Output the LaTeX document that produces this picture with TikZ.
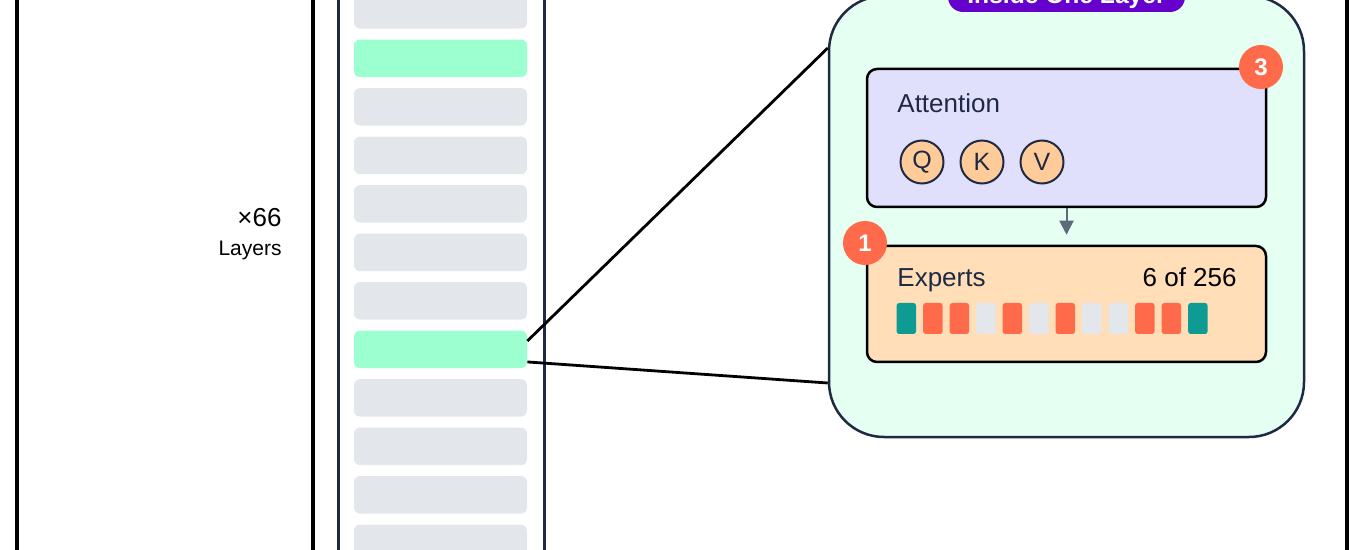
\documentclass[tikz,border=0pt]{standalone}
\usepackage{fontspec}
\setmainfont{Liberation Sans}
\usetikzlibrary{arrows.meta}
\definecolor{navy}{HTML}{1E2A44}
\definecolor{barg}{HTML}{E3E6EA}
\definecolor{barh}{HTML}{9BFFD0}
\definecolor{mint}{HTML}{E6FFF3}
\definecolor{lavender}{HTML}{E0E0FC}
\definecolor{peach}{HTML}{FFDEB8}
\definecolor{apricot}{HTML}{FFCC99}
\definecolor{coral}{HTML}{FF6B4A}
\definecolor{tealx}{HTML}{0E9B94}
\definecolor{violet}{HTML}{6600CC}
\definecolor{slate}{HTML}{5C6B7A}
\tikzset{
    layerbar/.style={rounded corners=3pt,inner sep=0pt,minimum width=86.5pt,minimum height=18.75pt},
    innerbox/.style={draw=black,line width=1.25pt,rounded corners=5pt,minimum width=199.5pt},
    qkv/.style={circle,draw=navy,line width=1pt,fill=apricot,text=navy,minimum size=21.5pt,inner sep=0pt,font=\fontsize{12.5}{14}\selectfont},
    badge/.style={circle,fill=coral,text=white,minimum size=22pt,inner sep=0pt,font=\fontsize{12}{14}\selectfont\bfseries},
    cell/.style={rounded corners=1.25pt,inner sep=0pt,minimum width=9.65pt,minimum height=15.5pt},
    boxtext/.style={inner sep=0pt,text=navy,font=\fontsize{13}{15}\selectfont}
}
\begin{document}
\begin{tikzpicture}[x=0.5pt,y=-0.5pt]
        \useasboundingbox (0,0) rectangle (1370,550);
        \clip (0,0) rectangle (1370,550);
        %% frames
        \draw[line width=1.8pt] (17,-20) rectangle (1347,570);
        \draw[line width=1.6pt] (313,-20) -- (313,570);
        %% layer stack
        \draw[navy,line width=1.5pt] (338,-20) rectangle (544,570);
        \foreach \i/\c in {1/barg,2/barh,3/barg,4/barg,5/barg,6/barg,7/barg,8/barh,9/barg,10/barg,11/barg,12/barg}
            \node[layerbar,fill=\c] (bar\i) at (440.5,{-38.65+48.5*\i}) {};
        \node[anchor=base east,inner sep=0pt,font=\fontsize{13}{15}\selectfont] (rep) at (282,227) {×66};
        \node[anchor=base east,inner sep=0pt,font=\fontsize{10.5}{12}\selectfont] (replbl) at (282,256) {Layers};
        %% zoom lines
        \node[draw=navy,line width=1.25pt,fill=mint,rounded corners=27.5pt,minimum width=237.5pt,minimum height=220.5pt] (panel) at (1066.5,216.5) {};
        \draw[line width=1.4pt] ([yshift=4.2pt]bar8.east) -- ([yshift=84.25pt]panel.west);
        \draw[line width=1.4pt] ([yshift=-6.3pt]bar8.east) -- ([yshift=-83.25pt]panel.west);
        \node[fill=violet,text=white,rounded corners=7.5pt,minimum width=118.5pt,minimum height=15pt,inner sep=0pt,font=\fontsize{12.3}{14}\selectfont\bfseries] (title) at (1066.5,-3) {Inside One Layer};
        %% attention
        \node[innerbox,fill=lavender,minimum height=69pt] (attn) at (1066.5,138) {};
        \node[boxtext,anchor=base west] (attnlbl) at (897,113) {Attention};
        \foreach \x/\t in {922/Q,982/K,1042/V}
            \node[qkv] (\t) at (\x,162) {\t};
        %% experts
        \node[innerbox,fill=peach,minimum height=58pt] (experts) at (1066.5,304) {};
        \node[boxtext,anchor=base west] (explbl) at (897,287) {Experts};
        \node[boxtext,anchor=base east,text=black] (expcount) at (1237,287) {6 of 256};
        \foreach \c [count=\i] in {tealx,coral,coral,barg,coral,barg,coral,barg,barg,coral,coral,tealx}
            \node[cell,fill=\c] (e\i) at ({906.35+26.5*(\i-1)},318.5) {};
        \draw[slate,line width=1pt,-{Triangle[length=7pt,width=7pt]},shorten >=5pt] (attn.south) -- (experts.north);
        %% badges
        \node[badge] (b3) at (1261,67) {3};
        \node[badge] (b1) at (865,243) {1};
    \end{tikzpicture}
\end{document}
